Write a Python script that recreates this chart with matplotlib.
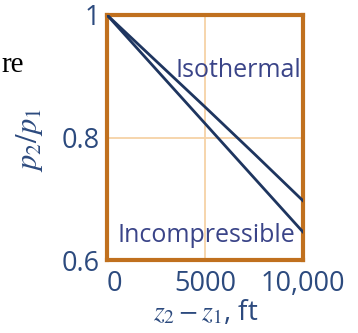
import matplotlib.pyplot as plt

# pressure ratio vs elevation change (ft)
dz_iso = [0, 2500, 5000, 7500, 10000]
p_iso = [1.0, 0.925, 0.850, 0.774, 0.697]
dz_inc = [0, 10000]
p_inc = [1.0, 0.646]

xticks = [0, 5000, 10000]
xtick_labels = ['0', '5000', '10,000']
yticks = [0.6, 0.8, 1.0]
ytick_labels = ['0.6', '0.8', '1']

plt.rcParams['font.family'] = ['Open Sans', 'DejaVu Sans']
plt.rcParams['mathtext.fontset'] = 'stix'

frame_col = '#c0701e'
grid_col = '#f6d2a6'
line_col = '#1e355f'
text_col = '#3a4488'
tick_col = '#2c4a7e'

fig = plt.figure(figsize=(3.58, 3.33), dpi=100)
ax = fig.add_axes([0.299, 0.219, 0.547, 0.736])

ax.plot(dz_iso, p_iso, color=line_col, lw=2.0, zorder=3)
ax.plot(dz_inc, p_inc, color=line_col, lw=2.0, zorder=3)

ax.axvline(5000, color=grid_col, lw=1.3, zorder=1)
ax.axhline(0.8, color=grid_col, lw=1.3, zorder=1)

ax.set_xlim(0, 10000)
ax.set_ylim(0.6, 1.0)
ax.set_xticks(xticks, xtick_labels)
ax.set_yticks(yticks, ytick_labels)
ax.tick_params(length=0, labelsize=19.5, labelcolor=tick_col)
ax.tick_params(axis='x', pad=7)
ax.tick_params(axis='y', pad=5)
ax.get_xticklabels()[0].set_horizontalalignment('left')

for s in ax.spines.values():
    s.set_color(frame_col)
    s.set_linewidth(3)

ax.text(9900, 0.910, 'Isothermal', color=text_col, fontsize=18,
        ha='right', va='center')
ax.text(9600, 0.640, 'Incompressible', color=text_col, fontsize=18,
        ha='right', va='center')

ax.set_xlabel(r'$z_2 - z_1$, ft', fontsize=20, color=tick_col, va='center')
ax.xaxis.set_label_coords(0.505, -0.215)
ax.set_ylabel(r'$p_2/p_1$', fontsize=22, color=tick_col, va='center')
ax.yaxis.set_label_coords(-0.395, 0.49)

# stray word from the surrounding page
fig.text(0.004, 0.805, 're', family='Liberation Serif', fontsize=21,
         color='black', ha='left', va='center')

fig.savefig('out.png', dpi=100)
